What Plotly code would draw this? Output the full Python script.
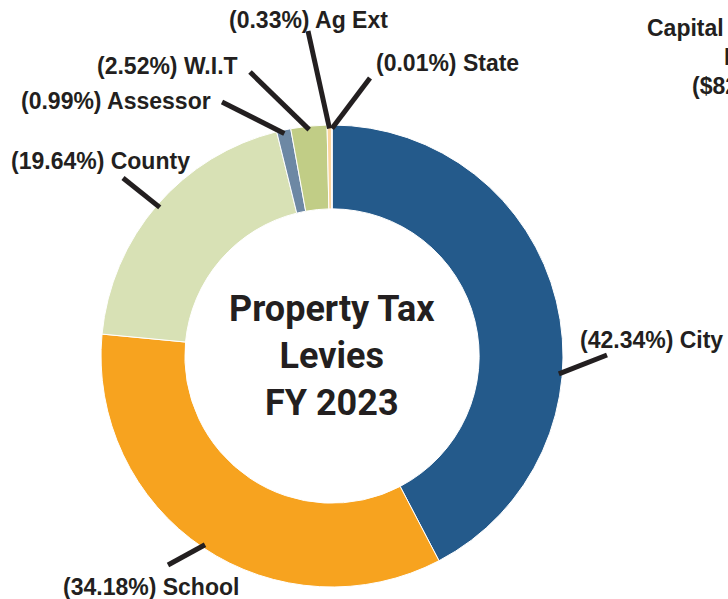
import math
import plotly.graph_objects as go

# ---- data ----
categories = ["City", "School", "County", "Assessor", "W.I.T", "Ag Ext", "State"]
percent_values = [42.34, 34.18, 19.64, 0.99, 2.52, 0.33, 0.01]
slice_colors = ["#245a8b", "#f7a31f", "#d8e1b5", "#6d88a4", "#c1cd86", "#fbd49c", "#a3c3e3"]
center_title = ["Property Tax", "Levies", "FY 2023"]
side_text_lines = ["Capital Improvement", "Fund", "($82,500,000)"]

# ---- layout (pixel geometry of the page) ----
W, H = 728, 599
CX, CY, R = 332, 356, 231
HOLE = 0.637
TXT = "#231f20"
LABEL_FONT = dict(family="Liberation Sans, Arial, sans-serif", size=23, color=TXT)

def P(x, y):
    return x / W, 1 - y / H

# label text anchors and leader tails (pixels), plus where along the slice the leader lands
label_style = {
    "City":     dict(pos=(578, 340), xanchor="left",   tail=(607, 355), frac=0.62),
    "School":   dict(pos=(151, 587), xanchor="center", tail=(168, 565), frac=0.5),
    "County":   dict(pos=(100, 161), xanchor="center", tail=(123, 178), frac=0.5),
    "Assessor": dict(pos=(213, 101), xanchor="right",  tail=(222, 102), frac=0.5),
    "W.I.T":    dict(pos=(240, 66),  xanchor="right",  tail=(250, 72),  frac=0.5),
    "Ag Ext":   dict(pos=(308, 20),  xanchor="center", tail=(308, 31),  frac=0.5),
    "State":    dict(pos=(374, 63),  xanchor="left",   tail=(370, 78),  frac=0.5),
}

x0, y_top = P(CX - R, CY - R)
x1, y_bot = P(CX + R, CY + R)

fig = go.Figure(go.Pie(
    labels=categories,
    values=percent_values,
    hole=HOLE,
    sort=False,
    direction="clockwise",
    rotation=0,
    textinfo="none",
    hoverinfo="label+value",
    marker=dict(colors=slice_colors, line=dict(color="white", width=1)),
    domain=dict(x=[x0, x1], y=[y_bot, y_top]),
    showlegend=False,
))

total = sum(percent_values)
shapes = []
annotations = []
start = 0.0
for name, v in zip(categories, percent_values):
    span = v / total * 360.0
    st = label_style[name]
    ang = math.radians(start + st["frac"] * span)
    r_end = R * 0.985
    ex, ey = CX + r_end * math.sin(ang), CY - r_end * math.cos(ang)
    tx, ty = st["tail"]
    ax0, ay0 = P(tx, ty)
    ax1, ay1 = P(ex, ey)
    shapes.append(dict(type="line", xref="paper", yref="paper", x0=ax0, y0=ay0, x1=ax1, y1=ay1,
                       line=dict(color=TXT, width=5), layer="above"))
    lx, ly = P(*st["pos"])
    annotations.append(dict(xref="paper", yref="paper", x=lx, y=ly, xanchor=st["xanchor"], yanchor="middle",
                            text=f"<b>({v:.2f}%) {name}</b>", showarrow=False, font=LABEL_FONT))
    start += span

cx_p, cy_p = P(CX, CY)
annotations.append(dict(xref="paper", yref="paper", x=cx_p, y=cy_p, xanchor="center", yanchor="middle",
                        text="<b>" + "<br>".join(center_title) + "</b>", showarrow=False,
                        font=dict(family="Roboto, Liberation Sans, Arial", size=36, color=TXT)))

# neighbouring caption that the reference crop cuts at its right edge
side_pos = [(645, 28), (722, 57), (690, 86)]
for t, (sx, sy) in zip(side_text_lines, side_pos):
    px, py = P(sx, sy)
    annotations.append(dict(xref="paper", yref="paper", x=px, y=py, xanchor="left", yanchor="middle",
                            text=f"<b>{t}</b>", showarrow=False, font=LABEL_FONT))

fig.update_layout(
    width=W, height=H,
    margin=dict(l=0, r=0, t=0, b=0),
    paper_bgcolor="white", plot_bgcolor="white",
    shapes=shapes, annotations=annotations,
)

fig.write_html("out.html", config={"displayModeBar": False},
               post_script="document.body.style.margin='0';document.body.style.overflow='hidden';")
